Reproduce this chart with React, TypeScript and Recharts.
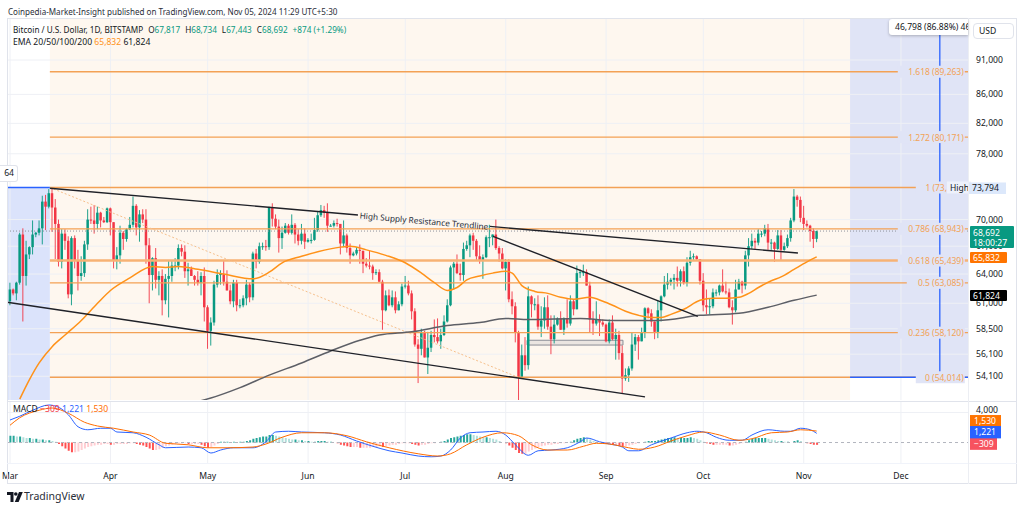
import React from 'react';
import { ComposedChart, Bar, Line, XAxis, YAxis, ReferenceLine, ReferenceArea, ReferenceDot, Cell } from 'recharts';

const FONT = '"Noto Sans", "Open Sans", sans-serif';
const INK = '#131722';

// day index: 0 = 1 Mar 2024 ... 249 = 5 Nov 2024 (prices in thousands USD)
const MONTH_DAYS = [0, 31, 61, 92, 122, 153, 184, 214, 245, 275];
const MONTH_LABELS = ['Mar', 'Apr', 'May', 'Jun', 'Jul', 'Aug', 'Sep', 'Oct', 'Nov', 'Dec'];

const FIRST_OPEN = 61.2;
const LAST_OPEN = 67.817;
const HIGH = [
  63.1,62.5,63.2,68.5,69.0,67.6,67.0,69.9,68.6,69.9,72.8,72.9,73.6,73.8,72.4,70.0,68.9,68.9,68.1,68.1,68.2,66.6,65.9,67.6,71.2,71.5,71.7,71.5,70.9,70.3,71.4,
  71.4,69.7,66.9,69.3,68.7,69.0,70.3,72.7,71.8,71.1,71.2,71.2,67.9,65.8,66.8,64.3,64.5,64.0,65.4,65.4,65.7,67.2,67.2,67.1,65.2,64.8,63.9,64.3,64.2,64.7,
  60.8,59.6,63.3,64.5,64.4,65.5,64.4,62.9,63.4,63.4,61.4,61.8,63.4,63.1,66.4,66.7,67.4,67.4,67.7,71.5,71.9,70.6,70.0,69.2,69.6,69.5,70.6,69.6,68.9,69.5,69.0,
  67.9,68.4,70.2,71.0,71.7,71.6,71.9,69.5,69.9,70.1,69.5,69.9,68.4,67.3,66.4,66.9,67.2,66.5,65.7,66.5,65.0,64.5,64.5,63.4,62.3,62.4,62.3,62.2,61.2,63.0,
  63.8,63.3,62.3,60.5,57.5,58.5,58.3,58.2,58.3,59.4,59.5,58.5,59.8,61.4,64.9,65.3,66.1,65.1,67.4,67.6,68.4,68.5,67.8,67.1,66.1,68.2,69.4,68.3,70.0,67.0,66.8,
  65.6,65.6,62.2,61.1,58.3,57.0,57.7,62.7,61.8,61.5,61.8,60.7,61.6,61.8,59.8,59.8,59.6,60.2,59.6,61.4,61.8,61.4,64.9,64.5,65.0,64.5,63.2,60.2,61.2,59.9,59.4,
  59.0,59.4,59.8,58.5,58.3,56.9,54.8,55.0,58.1,58.0,57.9,58.6,60.6,60.6,60.4,59.2,61.3,61.8,63.8,64.1,63.6,64.0,64.8,64.5,64.8,65.8,66.5,66.2,66.0,65.6,
  64.1,62.4,61.5,62.5,62.4,62.9,64.5,63.2,62.5,61.3,63.4,63.5,63.3,66.5,67.9,68.4,67.9,68.9,68.7,69.4,69.5,67.8,67.5,68.8,68.8,67.4,68.3,70.2,73.6,72.9,72.7,
  71.6,69.9,69.4,69.0,68.734,
];
const LOW = [
  60.8,61.8,61.3,62.9,59.2,62.8,65.6,66.1,68.0,68.2,67.2,68.8,71.3,68.6,65.6,64.8,64.6,66.6,61.5,60.8,64.6,62.3,63.3,63.7,66.6,69.5,68.4,68.9,69.1,69.6,69.6,
  68.2,64.6,64.5,65.1,66.6,67.5,68.8,69.1,68.2,67.5,69.6,65.1,61.0,62.3,62.5,61.8,59.8,60.9,59.6,63.2,64.3,64.5,65.9,63.6,62.8,63.8,62.8,62.8,61.8,59.2,
  56.6,56.9,58.8,62.6,62.9,62.8,62.3,60.9,60.6,60.2,60.5,60.6,60.8,61.1,61.3,64.6,65.1,66.6,66.5,66.6,69.2,68.9,66.3,66.7,68.4,68.3,68.3,67.3,67.1,67.2,66.7,
  67.4,67.3,67.6,68.6,70.3,70.2,68.6,69.2,69.1,69.2,66.1,66.9,66.3,65.1,65.9,66.0,65.1,64.1,64.7,64.5,63.4,63.9,63.2,58.4,60.2,60.7,60.6,60.0,60.3,60.7,
  62.5,61.8,59.4,56.8,53.5,56.0,55.8,54.3,56.3,57.2,57.1,56.6,57.8,59.1,60.7,62.4,64.0,63.3,63.3,66.5,65.8,66.6,65.4,65.1,63.5,65.7,66.9,67.1,66.6,65.3,64.5,
  62.3,61.1,59.9,57.2,49.1,54.0,54.6,54.7,59.6,60.3,58.4,57.7,58.5,58.4,56.1,57.1,58.8,58.4,57.9,58.6,58.8,59.8,60.4,63.6,63.8,62.8,58.1,57.9,58.8,57.8,58.7,
  57.2,57.1,57.4,55.6,55.6,52.6,53.7,53.6,54.6,56.4,55.6,57.3,57.6,59.5,58.7,57.5,57.6,59.2,61.6,62.4,62.8,62.4,62.7,62.7,62.9,62.7,64.9,65.4,65.4,62.9,
  60.2,59.9,59.9,60.5,61.7,61.8,62.1,61.9,60.5,58.9,60.1,62.4,62.0,62.4,64.8,66.7,66.7,67.1,68.0,68.1,66.6,66.6,65.3,66.6,65.5,66.5,66.8,67.5,69.7,71.5,69.7,
  68.8,69.1,67.5,66.8,67.443,
];
const CLOSE = [
  62.4,62.0,63.1,68.3,63.8,66.1,66.9,68.3,68.5,69.0,72.1,71.5,73.1,71.4,69.5,65.3,68.4,67.6,61.9,67.9,65.5,63.8,64.1,67.2,70.0,69.9,69.5,70.8,69.9,69.7,71.3,
  69.7,65.5,66.0,68.5,67.8,68.9,69.4,71.6,69.1,70.6,70.0,67.1,63.9,65.7,63.4,63.8,61.3,63.5,63.8,64.9,64.9,66.8,66.4,64.3,64.5,63.8,63.4,63.1,63.8,60.6,
  58.3,59.1,62.9,63.9,64.0,63.2,62.3,61.2,63.1,60.8,60.8,61.5,62.9,61.6,66.2,65.3,67.0,67.0,66.9,71.4,70.1,69.2,67.9,68.5,69.3,68.5,69.4,68.3,67.6,68.4,67.5,
  67.7,67.7,68.8,70.5,71.1,70.8,69.3,69.3,69.6,69.5,67.3,68.2,66.8,66.0,66.2,66.6,66.5,65.1,64.9,64.8,64.1,64.2,63.2,60.3,61.8,60.8,61.6,60.3,60.9,62.7,
  62.8,62.0,60.2,57.0,56.6,58.2,55.8,56.7,57.9,57.7,57.3,57.9,59.2,60.8,64.7,65.1,64.1,63.9,66.7,67.1,68.2,67.6,65.9,65.4,65.8,68.0,68.0,68.3,66.8,66.2,64.6,
  65.3,61.4,60.7,58.1,54.0,56.0,55.1,61.7,60.9,60.9,58.7,59.3,60.6,58.7,57.5,58.9,59.5,58.4,59.5,59.0,61.2,60.4,64.1,64.2,64.2,62.8,59.4,59.0,59.4,59.1,58.9,
  57.3,59.1,57.5,57.9,56.2,53.9,54.2,54.8,57.0,57.7,57.3,58.1,60.5,60.0,59.2,58.2,60.3,61.7,62.9,63.2,63.4,63.6,63.3,64.3,63.1,65.2,65.8,65.9,65.6,63.3,
  60.8,60.6,60.7,62.1,62.1,62.8,62.2,62.1,60.6,60.3,62.4,63.2,62.8,66.0,67.0,67.6,67.4,68.4,68.4,69.0,67.4,67.4,66.7,68.2,66.6,67.0,67.9,69.9,72.7,72.3,70.2,
  69.5,69.3,68.7,67.8,68.692,
];

// EMA lines: [day, value]
const EMA50_PTS: [number, number][] = [
  [3,52.1],[6,53.8],[9,55.3],[13,56.8],[17,57.9],[22,59.3],[27,61.0],[31,62.3],[37,63.6],[44,64.8],[48,64.7],[52,64.8],
  [58,64.5],[66,64.0],[75,63.5],[80,64.2],[84,65.2],[90,65.9],[95,66.4],[102,66.9],[105,67.0],[110,66.6],[116,66.0],
  [122,65.2],[127,64.1],[131,63.1],[135,62.3],[138,62.6],[141,63.4],[145,63.8],[149,64.1],[153,64.3],[155,64.1],
  [158,62.8],[162,62.2],[166,62.0],[170,61.6],[174,61.4],[179,61.6],[183,61.2],[186,60.8],[190,60.2],[194,59.8],
  [198,59.6],[201,59.6],[204,59.9],[208,60.4],[213,61.3],[217,61.5],[221,61.5],[225,61.6],[228,62.0],[231,62.6],
  [235,63.3],[238,63.7],[242,64.5],[246,65.3],[249,65.832],
];
const EMA200_PTS: [number, number][] = [
  [58,51.9],[62,52.2],[71,53.1],[80,54.2],[90,55.3],[99,56.4],[108,57.4],[114,57.9],[124,58.2],[135,58.8],[145,59.1],
  [153,59.5],[160,59.4],[176,59.5],[186,59.3],[193,59.3],[200,59.3],[213,59.8],[225,60.0],[234,60.6],[242,61.3],[249,61.824],
];

// MACD pane (thousands)
const MACD_PTS: [number, number][] = [
  [0,3.0],[3,3.5],[7,4.3],[12,5.0],[15,4.7],[18,3.7],[21,2.1],[24,1.7],[28,1.9],[31,1.9],[33,1.4],[38,1.3],[42,0.7],
  [46,-0.3],[48,-0.7],[55,-0.6],[59,-0.7],[62,-1.4],[65,-1.0],[69,-0.7],[75,-0.7],[79,0.1],[82,1.4],[86,1.5],[90,1.4],
  [97,1.3],[102,1.0],[107,0.2],[112,-0.5],[117,-1.1],[121,-1.4],[126,-1.8],[130,-1.9],[133,-1.8],[136,-1.0],[139,0.6],
  [142,1.3],[146,1.4],[150,1.5],[153,1.0],[156,-0.3],[160,-1.7],[163,-1.1],[167,-1.0],[172,-0.7],[176,0.1],[178,0.6],
  [182,0.1],[185,-0.2],[189,-0.6],[191,-1.1],[194,-1.1],[198,-0.3],[204,0.6],[209,1.3],[212,1.5],[215,1.3],[218,0.7],
  [222,0.3],[226,0.3],[229,1.0],[234,1.7],[239,1.5],[241,1.5],[244,1.9],[247,1.7],[249,1.221],
];
const SIGNAL_PTS: [number, number][] = [
  [0,2.3],[3,3.3],[9,4.3],[13,4.6],[18,3.9],[23,2.7],[27,2.2],[32,1.9],[38,1.4],[43,1.0],[48,-0.1],[55,-0.3],[61,-0.7],
  [67,-0.7],[75,-0.6],[79,-0.2],[84,0.7],[90,1.3],[97,1.3],[104,0.9],[110,0.1],[117,-0.7],[126,-1.5],[132,-1.8],[136,-1.5],
  [141,-0.3],[146,0.7],[152,1.3],[157,0.9],[161,-0.3],[166,-1.0],[172,-1.0],[177,-0.5],[181,-0.1],[185,-0.2],[191,-0.7],
  [194,-0.9],[199,-0.6],[204,0.2],[209,0.9],[214,1.4],[219,1.0],[225,0.3],[229,0.5],[235,1.3],[240,1.4],[244,1.7],[249,1.53],
];
const HIST = [
  0.9,0.9,0.8,0.8,0.7,0.6,0.6,0.5,0.5,0.4,0.4,0.3,0.3,0.2,0.1,-0.2,-0.5,-0.8,-1.1,-1.3,-1.3,-1.2,-1.0,-0.8,-0.6,-0.5,-0.4,-0.3,-0.3,-0.2,-0.2,
  -0.3,-0.3,-0.2,-0.2,-0.2,-0.2,-0.1,-0.1,-0.2,-0.3,-0.4,-0.6,-0.8,-1.0,-1.0,-0.9,-0.7,-0.5,-0.4,-0.3,-0.2,-0.1,-0.1,-0.1,-0.2,-0.2,-0.2,-0.2,-0.3,-0.5,
  -0.7,-0.6,-0.4,-0.2,0.1,0.1,0.1,0.0,0.1,0.0,0.1,0.1,0.2,0.3,0.5,0.6,0.7,0.8,0.8,1.0,1.0,0.9,0.8,0.7,0.6,0.5,0.4,0.4,0.3,0.3,0.2,
  0.2,0.1,0.1,0.2,0.2,0.2,0.1,0.1,0.0,-0.1,-0.3,-0.4,-0.5,-0.6,-0.6,-0.6,-0.7,-0.7,-0.7,-0.7,-0.6,-0.6,-0.5,-0.6,-0.5,-0.4,-0.3,-0.3,-0.2,-0.1,
  -0.1,-0.1,-0.2,-0.3,-0.4,-0.3,-0.3,-0.2,-0.1,-0.1,0.0,0.1,0.2,0.4,0.6,0.7,0.8,0.9,1.0,1.1,1.1,1.0,0.9,0.8,0.7,0.7,0.6,0.5,0.4,0.2,0.0,
  -0.1,-0.4,-0.7,-1.0,-1.4,-1.5,-1.5,-1.2,-1.0,-0.8,-0.6,-0.5,-0.4,-0.3,-0.3,-0.2,-0.2,-0.1,-0.1,0.0,0.1,0.3,0.5,0.6,0.7,0.6,0.4,0.2,0.1,0.0,-0.1,
  -0.2,-0.2,-0.3,-0.3,-0.4,-0.5,-0.5,-0.4,-0.3,-0.2,-0.1,0.0,0.1,0.2,0.2,0.2,0.3,0.4,0.5,0.6,0.6,0.7,0.6,0.6,0.6,0.6,0.7,0.6,0.5,0.3,
  0.1,-0.1,-0.2,-0.3,-0.3,-0.3,-0.3,-0.3,-0.4,-0.4,-0.3,-0.2,-0.1,0.1,0.3,0.5,0.6,0.6,0.6,0.6,0.5,0.4,0.3,0.2,0.2,0.1,0.1,0.0,0.2,0.3,0.2,
  0.0,-0.1,-0.2,-0.3,-0.309,
];

// Fibonacci retracement (log) levels
const FIB_LEVELS = ['1.618', '1.272', '1', '0.786', '0.618', '0.5', '0.236', '0'];
const FIB_PRICES = [89.263, 80.171, 73.794, 68.943, 65.439, 63.085, 58.12, 54.014];
const FIB_START = 12.3;

// Price axis
const PRICE_TICKS = [91, 86, 82, 78, 70, 67, 64, 61, 58.5, 56.1, 54.1];
const HIGH_PRICE = 73.794;
const LAST_PRICE = 68.692;
const EMA50_LAST = 65.832;
const EMA200_LAST = 61.824;
const MACD_TICKS = [4];
const MACD_LAST = 1.221;
const SIGNAL_LAST = 1.53;
const HIST_LAST = -0.309;

// Drawings [day, price]
const TREND_HIGH: [number, number][] = [[12.3, 73.7], [243.2, 66.25]];
const TREND_GAP = [107.4, 148.1];
const TREND_LABEL_DAY = 127.8;
const TREND_LOW: [number, number][] = [[-0.9, 61.1], [196, 52.3]];
const TREND_JUL: [number, number][] = [[149.1, 68.1], [212.3, 59.7]];
const FIB_DIAG: [number, number][] = [[12.3, 73.794], [156.8, 54.014]];
const BOX = { d1: 159.6, d2: 189.2, p1: 56.95, p2: 57.4 };
const LEFT_RANGE = { d1: -0.93, d2: 12.3, top: 73.794 };
const RIGHT_RANGE = { d1: 259.3, d2: 295.7, bottom: 54.014, mid: 287 };

const X_DOMAIN: [number, number] = [-0.93, 295.7];
const PRICE_DOMAIN: [number, number] = [52.03, 97.51];
const MACD_DOMAIN: [number, number] = [-2.73, 5.4];

const RIGHT_BG = '#e0e4f6';
const LEFT_BG = '#dbe3fb';
const PEACH = '#fef7ef';
const GRID = '#eef0f5';
const UP = '#089981';
const DOWN = '#f23645';
const FIB = '#f3a155';

const candles = CLOSE.map((c, i) => {
  const o = i === 0 ? FIRST_OPEN : i === CLOSE.length - 1 ? LAST_OPEN : CLOSE[i - 1];
  return { d: i, o, h: HIGH[i], l: LOW[i], c, range: [LOW[i], HIGH[i]] };
});
const ema50 = EMA50_PTS.map(([d, v]) => ({ d, v }));
const ema200 = EMA200_PTS.map(([d, v]) => ({ d, v }));
const macdLine = MACD_PTS.map(([d, v]) => ({ d, v }));
const signalLine = SIGNAL_PTS.map(([d, v]) => ({ d, v }));
const histRows = HIST.map((h, i) => ({ d: i, h }));
const histColor = (i: number) => {
  const h = HIST[i];
  const prev = i > 0 ? HIST[i - 1] : h;
  if (h >= 0) return h >= prev ? '#26a69a' : '#b2dfdb';
  return h < prev ? '#ff5252' : '#ffcdd2';
};

const fmtK = (v: number) => Math.round(v * 1000).toLocaleString('en-US');
const logInterp = (seg: [number, number][], d: number) => {
  const [[d1, p1], [d2, p2]] = seg;
  const t = (d - d1) / (d2 - d1);
  return Math.exp(Math.log(p1) + t * (Math.log(p2) - Math.log(p1)));
};

function Candle(props: any) {
  let { x, y, width, height, payload } = props;
  if (height < 0) { y += height; height = -height; }
  const { o, c, h, l } = payload;
  const lh = Math.log(h);
  const span = lh - Math.log(l) || 1;
  const py = (p: number) => y + ((lh - Math.log(p)) / span) * height;
  const cx = x + width / 2;
  const color = c >= o ? UP : DOWN;
  const top = py(Math.max(o, c));
  const bot = py(Math.min(o, c));
  return (
    <g>
      <line x1={cx} x2={cx} y1={y} y2={y + height} stroke={color} strokeWidth={0.9} />
      <rect x={cx - 1.25} y={top} width={2.5} height={Math.max(1, bot - top)} fill={color} />
    </g>
  );
}

function PriceTick(props: any) {
  const { x, y, payload } = props;
  const v = payload.value;
  const t = { fontSize: 8.6, fontFamily: FONT, dominantBaseline: 'central' as const };
  if (v === HIGH_PRICE) {
    return (
      <g>
        <rect x={x - 7} y={y - 5} width={37} height={11.5} fill="#dce8fb" />
        <text x={x - 4} y={y + 0.8} fill={INK} {...t}>{fmtK(v)}</text>
      </g>
    );
  }
  if (v === LAST_PRICE) {
    return (
      <g>
        <rect x={x - 6} y={y - 5} width={44} height={22} rx={1} fill={UP} />
        <text x={x - 3} y={y + 1.5} fill="#fff" {...t}>{fmtK(v)}</text>
        <text x={x - 3} y={y + 11.5} fill="#fff" {...t}>18:00:27</text>
      </g>
    );
  }
  if (v === EMA50_LAST || v === EMA200_LAST) {
    return (
      <g>
        <rect x={x - 6} y={y - 5} width={37} height={11} rx={1} fill={v === EMA50_LAST ? '#ff7400' : '#000'} />
        <text x={x - 3} y={y + 0.8} fill="#fff" {...t}>{fmtK(v)}</text>
      </g>
    );
  }
  return <text x={x} y={y} fill={INK} {...t}>{fmtK(v)}</text>;
}

function MacdTick(props: any) {
  const { x, y, payload } = props;
  const v = payload.value;
  const t = { fontSize: 8.6, fontFamily: FONT, dominantBaseline: 'central' as const };
  if (v === SIGNAL_LAST) {
    return (<g><rect x={x - 6} y={y - 16} width={31} height={11} fill="#ff7400" /><text x={x - 2} y={y - 10.5} fill="#fff" {...t}>{fmtK(v)}</text></g>);
  }
  if (v === MACD_LAST) {
    return (<g><rect x={x - 6} y={y - 8} width={31} height={13} fill="#2962ff" /><text x={x - 2} y={y - 1.5} fill="#fff" {...t}>{fmtK(v)}</text></g>);
  }
  if (v === HIST_LAST) {
    return (<g><rect x={x - 6} y={y - 7} width={27} height={12} fill="#f7525f" /><text x={x - 2} y={y - 1} fill="#fff" {...t}>{'\u2212' + fmtK(-v)}</text></g>);
  }
  return <text x={x} y={y - 3} fill={INK} {...t}>{fmtK(v)}</text>;
}

const MAIN = { width: 1024, height: 402, margin: { top: 18, right: 0, bottom: 2, left: 7 } };

const xAxisMain = <XAxis type="number" dataKey="d" domain={X_DOMAIN} allowDataOverflow hide />;

function yAxisMain(withTicks: boolean) {
  return (
    <YAxis
      orientation="right"
      width={56}
      scale="log"
      type="number"
      domain={PRICE_DOMAIN}
      allowDataOverflow
      ticks={withTicks ? [...PRICE_TICKS, HIGH_PRICE, EMA200_LAST, EMA50_LAST, LAST_PRICE] : PRICE_TICKS}
      interval={0}
      tickLine={false}
      axisLine={false}
      tickSize={0}
      tickMargin={8}
      tick={withTicks ? (p: any) => <PriceTick {...p} /> : false}
    />
  );
}

// width (px) of a 10-character label such as "0 (54,014)" at 8.5px Noto Sans
const SHORT_LABEL_W = 38.4;

function fibLabel(text: string, truncateAt?: number) {
  return (p: any) => {
    const w = text.length * 4.5 + 3;
    return (
      <g>
        <rect x={p.cx - w} y={p.cy - 6} width={w + 1} height={12} fill={RIGHT_BG} />
        {truncateAt ? (
          <text x={p.cx - SHORT_LABEL_W} y={p.cy} dominantBaseline="central" fontSize={8.5} fontFamily={FONT} fill="#f2a256">
            {text.slice(0, truncateAt)}
          </text>
        ) : (
          <text x={p.cx} y={p.cy} textAnchor="end" dominantBaseline="central" fontSize={8.5} fontFamily={FONT} fill="#f2a256">
            {text}
          </text>
        )}
      </g>
    );
  };
}

const gap = { marginLeft: 5 };

export default function App() {
  const trendLabelPrice = logInterp(TREND_HIGH, TREND_LABEL_DAY);
  return (
    <div style={{ position: 'fixed', left: 0, top: 0, width: 1024, height: 509, background: '#fff', overflow: 'hidden', fontFamily: FONT }}>
      <div style={{ position: 'absolute', left: 8, top: 5, fontSize: 8.08, lineHeight: '13px', color: '#2a2e39', whiteSpace: 'nowrap' }}>
        Coinpedia-Market-Insight published on TradingView.com, Nov 05, 2024 11:29 UTC+5:30
      </div>

      {/* background layer */}
      <div style={{ position: 'absolute', left: 0, top: 0 }}>
        <ComposedChart {...MAIN} data={candles}>
          {xAxisMain}
          {yAxisMain(false)}
          <ReferenceArea x1={FIB_START} x2={RIGHT_RANGE.d1} y1={PRICE_DOMAIN[0]} y2={PRICE_DOMAIN[1]} fill={PEACH} fillOpacity={1} stroke="none" />
          <ReferenceArea x1={LEFT_RANGE.d1} x2={LEFT_RANGE.d2} y1={PRICE_DOMAIN[0]} y2={LEFT_RANGE.top} fill={LEFT_BG} fillOpacity={1} stroke="none" />
          <ReferenceArea x1={RIGHT_RANGE.d1} x2={RIGHT_RANGE.d2} y1={RIGHT_RANGE.bottom} y2={PRICE_DOMAIN[1]} fill={RIGHT_BG} fillOpacity={1} stroke="none" />
          {MONTH_DAYS.map((d) => (
            <ReferenceLine key={'gx' + d} x={d} stroke={GRID} strokeWidth={1} />
          ))}
          {PRICE_TICKS.map((p) => (
            <ReferenceLine key={'gy' + p} y={p} stroke={GRID} strokeWidth={1} />
          ))}
        </ComposedChart>
      </div>

      {/* drawings + series */}
      <div style={{ position: 'absolute', left: 0, top: 0 }}>
        <ComposedChart {...MAIN} data={candles}>
          {xAxisMain}
          {yAxisMain(false)}
          <ReferenceLine y={LAST_PRICE} stroke="#8f929b" strokeDasharray="1 2" strokeWidth={1} />
          {FIB_PRICES.map((p, i) => (
            <ReferenceLine key={'fib' + i} segment={[{ x: FIB_START, y: p }, { x: X_DOMAIN[1], y: p }]} stroke={FIB_LEVELS[i] === '0.618' ? '#f7b274' : FIB} strokeWidth={FIB_LEVELS[i] === '0.618' ? 2.4 : 1.3} />
          ))}
          <ReferenceLine segment={[{ x: LEFT_RANGE.d1, y: LEFT_RANGE.top }, { x: LEFT_RANGE.d2, y: LEFT_RANGE.top }]} stroke="#2962ff" strokeWidth={1.5} />
          <ReferenceLine segment={[{ x: RIGHT_RANGE.d1, y: RIGHT_RANGE.bottom }, { x: RIGHT_RANGE.d2, y: RIGHT_RANGE.bottom }]} stroke="#2962ff" strokeWidth={1.3} />
          <ReferenceLine segment={[{ x: RIGHT_RANGE.mid, y: RIGHT_RANGE.bottom }, { x: RIGHT_RANGE.mid, y: PRICE_DOMAIN[1] }]} stroke="#2962ff" strokeWidth={1.3} />
          <ReferenceLine segment={[{ x: FIB_DIAG[0][0], y: FIB_DIAG[0][1] }, { x: FIB_DIAG[1][0], y: FIB_DIAG[1][1] }]} stroke="#f6c08c" strokeDasharray="2 2" strokeWidth={1} />
          <Bar dataKey="range" barSize={3} shape={(p: any) => <Candle {...p} />} isAnimationActive={false} />
          <Line data={ema200} dataKey="v" type="monotone" stroke="#5d5f66" strokeWidth={1.5} dot={false} activeDot={false} isAnimationActive={false} />
          <Line data={ema50} dataKey="v" type="monotone" stroke="#ff9219" strokeWidth={1.5} dot={false} activeDot={false} isAnimationActive={false} />
          <ReferenceLine segment={[{ x: TREND_HIGH[0][0], y: TREND_HIGH[0][1] }, { x: TREND_GAP[0], y: logInterp(TREND_HIGH, TREND_GAP[0]) }]} stroke="#1f2128" strokeWidth={1.4} />
          <ReferenceLine segment={[{ x: TREND_GAP[1], y: logInterp(TREND_HIGH, TREND_GAP[1]) }, { x: TREND_HIGH[1][0], y: TREND_HIGH[1][1] }]} stroke="#1f2128" strokeWidth={1.4} />
          <ReferenceLine segment={[{ x: TREND_LOW[0][0], y: TREND_LOW[0][1] }, { x: TREND_LOW[1][0], y: TREND_LOW[1][1] }]} stroke="#1f2128" strokeWidth={1.4} />
          <ReferenceLine segment={[{ x: TREND_JUL[0][0], y: TREND_JUL[0][1] }, { x: TREND_JUL[1][0], y: TREND_JUL[1][1] }]} stroke="#1f2128" strokeWidth={1.4} />
          <ReferenceArea x1={BOX.d1} x2={BOX.d2} y1={BOX.p1} y2={BOX.p2} fill="#9598a1" fillOpacity={0.18} stroke="#8a8d96" strokeWidth={1} />
        </ComposedChart>
      </div>

      {/* labels layer */}
      <div style={{ position: 'absolute', left: 0, top: 0 }}>
        <ComposedChart {...MAIN} data={candles}>
          {xAxisMain}
          {yAxisMain(true)}
          {FIB_PRICES.map((p, i) => (
            <ReferenceDot
              key={'fl' + i}
              x={294.4}
              y={p}
              r={1}
              shape={fibLabel(`${FIB_LEVELS[i]} (${fmtK(p)})`, p === HIGH_PRICE ? 6 : undefined)}
            />
          ))}
          <ReferenceDot
            x={292.6}
            y={HIGH_PRICE}
            r={1}
            shape={(p: any) => (
              <g>
                <rect x={p.cx - 11} y={p.cy - 6} width={24} height={12} fill="#eef1fb" />
                <text x={p.cx - 8} y={p.cy} dominantBaseline="central" fontSize={8.5} fontFamily={FONT} fill={INK}>High</text>
              </g>
            )}
          />
          <ReferenceDot
            x={TREND_LABEL_DAY}
            y={trendLabelPrice}
            r={1}
            shape={(p: any) => (
              <text x={p.cx} y={p.cy} transform={`rotate(4.97 ${p.cx} ${p.cy})`} textAnchor="middle" dominantBaseline="central" fontSize={8.3} fontFamily={FONT} fill="#2a2e39">
                High Supply Resistance Trendline
              </text>
            )}
          />
        </ComposedChart>
      </div>

      {/* MACD background */}
      <div style={{ position: 'absolute', left: 0, top: 401 }}>
        <ComposedChart width={1024} height={84} data={histRows} margin={{ top: 1, right: 0, bottom: 0, left: 7 }}>
          <XAxis type="number" dataKey="d" domain={X_DOMAIN} allowDataOverflow height={22} tick={false} axisLine={false} tickLine={false} />
          <YAxis orientation="right" width={56} type="number" domain={MACD_DOMAIN} allowDataOverflow tick={false} axisLine={false} tickLine={false} />
          {MONTH_DAYS.map((d) => (
            <ReferenceLine key={'mgx' + d} x={d} stroke={GRID} strokeWidth={1} />
          ))}
          {MACD_TICKS.map((v) => (
            <ReferenceLine key={'mgy' + v} y={v} stroke={GRID} strokeWidth={1} />
          ))}
        </ComposedChart>
      </div>

      {/* MACD series */}
      <div style={{ position: 'absolute', left: 0, top: 401 }}>
        <ComposedChart width={1024} height={84} data={histRows} margin={{ top: 1, right: 0, bottom: 0, left: 7 }}>
          <XAxis
            type="number"
            dataKey="d"
            domain={X_DOMAIN}
            allowDataOverflow
            height={22}
            ticks={MONTH_DAYS}
            interval={0}
            tickFormatter={(v: number) => MONTH_LABELS[MONTH_DAYS.indexOf(v)]}
            tickLine={false}
            axisLine={false}
            tickSize={0}
            tickMargin={10}
            tick={{ fontSize: 8.6, fill: INK, fontFamily: FONT }}
          />
          <YAxis
            orientation="right"
            width={56}
            type="number"
            domain={MACD_DOMAIN}
            allowDataOverflow
            ticks={[...MACD_TICKS, HIST_LAST, MACD_LAST, SIGNAL_LAST]}
            interval={0}
            tickLine={false}
            axisLine={false}
            tickSize={0}
            tickMargin={8}
            tick={(p: any) => <MacdTick {...p} />}
          />
          <ReferenceLine segment={[{ x: X_DOMAIN[0], y: 0 }, { x: X_DOMAIN[1], y: 0 }]} stroke="#b2b5be" strokeDasharray="3 3" strokeWidth={1} />
          <Bar dataKey="h" barSize={2} isAnimationActive={false}>
            {histRows.map((r, i) => (
              <Cell key={i} fill={histColor(i)} />
            ))}
          </Bar>
          <Line data={macdLine} dataKey="v" type="monotone" stroke="#2962ff" strokeWidth={1} dot={false} activeDot={false} isAnimationActive={false} />
          <Line data={signalLine} dataKey="v" type="monotone" stroke="#ff6d00" strokeWidth={1} dot={false} activeDot={false} isAnimationActive={false} />
        </ComposedChart>
      </div>

      {/* frame lines */}
      <div style={{ position: 'absolute', left: 7, top: 18, width: 1010, height: 466, border: '1px solid #e0e3eb', boxSizing: 'border-box', pointerEvents: 'none' }} />
      <div style={{ position: 'absolute', left: 7, top: 401, width: 1010, height: 1, background: '#e0e3eb' }} />
      <div style={{ position: 'absolute', left: 7, top: 463, width: 1010, height: 1, background: '#f0f3fa' }} />
      <div style={{ position: 'absolute', left: 968, top: 18, width: 1, height: 466, background: '#eceef3' }} />

      {/* legend */}
      <div style={{ position: 'absolute', left: 13, top: 24, fontSize: 8.2, lineHeight: '12px', color: INK, whiteSpace: 'nowrap' }}>
        <span>Bitcoin / U.S. Dollar, 1D, BITSTAMP</span>
        <span style={gap}>O<span style={{ color: UP }}>67,817</span></span>
        <span style={gap}>H<span style={{ color: UP }}>68,734</span></span>
        <span style={gap}>L<span style={{ color: UP }}>67,443</span></span>
        <span style={gap}>C<span style={{ color: UP }}>68,692</span></span>
        <span style={{ ...gap, color: UP }}>+874 (+1.29%)</span>
      </div>
      <div style={{ position: 'absolute', left: 13, top: 36, fontSize: 8.6, lineHeight: '12px', color: INK, whiteSpace: 'nowrap' }}>
        EMA 20/50/100/200{'  '}<span style={{ color: '#ff9219' }}>65,832</span>{'  '}<span>61,824</span>
      </div>
      <div style={{ position: 'absolute', left: 13, top: 403, fontSize: 8.6, lineHeight: '12px', color: INK, whiteSpace: 'nowrap' }}>
        MACD{'  '}<span style={{ color: '#f23645' }}>−309</span>{'  '}<span style={{ color: '#2962ff' }}>1,221</span>{'  '}<span style={{ color: '#ff6d00' }}>1,530</span>
      </div>

      {/* tool boxes */}
      <div style={{ position: 'absolute', left: 0, top: 165, width: 18, height: 17, background: '#fff', border: '1px solid #e0e3eb', borderLeft: 'none', borderRadius: '0 3px 3px 0', boxSizing: 'border-box', fontSize: 8.6, lineHeight: '15px', color: INK, textAlign: 'right', paddingRight: 3 }}>64</div>
      <div style={{ position: 'absolute', left: 889, top: 19, width: 79, height: 16, background: '#fff', boxShadow: '0 1px 3px rgba(0,0,0,0.25)', borderRadius: '3px 0 0 3px', overflow: 'hidden', fontSize: 8.6, lineHeight: '16px', color: INK, whiteSpace: 'nowrap', paddingLeft: 6, boxSizing: 'border-box' }}>
        46,798 (86.88%) 46,
      </div>
      <div style={{ position: 'absolute', left: 973, top: 23, width: 41, height: 16, background: '#fff', border: '1px solid #e0e3eb', borderRadius: 4, boxSizing: 'border-box', fontSize: 8.6, lineHeight: '14px', color: INK, paddingLeft: 5 }}>USD</div>

      {/* TradingView logo */}
      <svg style={{ position: 'absolute', left: 7, top: 492 }} width={16} height={10}>
        <path d="M0 0h6.5v10h-3v-7h-3.5z" fill={INK} />
        <circle cx={8.8} cy={2} r={1.8} fill={INK} />
        <path d="M12 0h3.8l-4.2 10h-3.8z" fill={INK} />
      </svg>
      <div style={{ position: 'absolute', left: 24, top: 490, fontSize: 10.5, lineHeight: '13px', color: '#2a2e39', whiteSpace: 'nowrap' }}>TradingView</div>
    </div>
  );
}
